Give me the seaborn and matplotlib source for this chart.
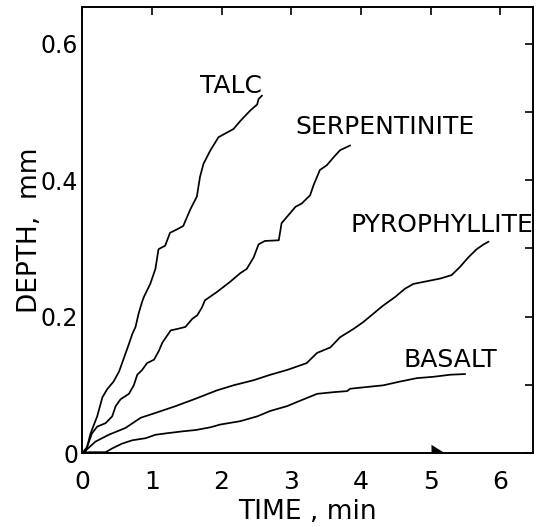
import matplotlib
matplotlib.use("Agg")
import matplotlib.pyplot as plt
import seaborn as sns
import pandas as pd

# ---- data (time in min, depth in mm) ----
talc_t = [0.0, 0.05, 0.12, 0.215, 0.29, 0.36, 0.45, 0.53, 0.60, 0.67, 0.72, 0.765, 0.81, 0.86, 0.885,
          0.976, 1.05, 1.095, 1.19, 1.26, 1.36, 1.45, 1.55, 1.645, 1.69, 1.74, 1.84, 1.955, 2.08, 2.17,
          2.27, 2.41, 2.51, 2.53, 2.58]
talc_d = [0.0, 0.0015, 0.029, 0.054, 0.082, 0.094, 0.105, 0.12, 0.14, 0.16, 0.175, 0.185, 0.205, 0.222, 0.229,
          0.248, 0.27, 0.299, 0.304, 0.323, 0.328, 0.333, 0.357, 0.376, 0.405, 0.424, 0.444, 0.463, 0.47, 0.475,
          0.487, 0.502, 0.511, 0.519, 0.524]

serp_t = [0.0, 0.07, 0.14, 0.215, 0.335, 0.43, 0.48, 0.55, 0.67, 0.74, 0.79, 0.86, 0.93, 1.03, 1.10, 1.15,
          1.27, 1.36, 1.48, 1.58, 1.65, 1.72, 1.76, 1.93, 2.12, 2.27, 2.36, 2.46, 2.53, 2.62, 2.82, 2.86,
          2.96, 3.06, 3.15, 3.27, 3.32, 3.41, 3.51, 3.61, 3.70, 3.845]
serp_d = [0.0, 0.009, 0.029, 0.039, 0.044, 0.054, 0.069, 0.079, 0.087, 0.0995, 0.115, 0.122, 0.132, 0.137, 0.15, 0.162,
          0.18, 0.182, 0.185, 0.197, 0.202, 0.214, 0.224, 0.236, 0.251, 0.264, 0.27, 0.287, 0.306, 0.311, 0.312, 0.337,
          0.349, 0.361, 0.366, 0.378, 0.393, 0.415, 0.422, 0.434, 0.444, 0.451]

pyro_t = [0.0, 0.05, 0.19, 0.38, 0.62, 0.84, 1.05, 1.34, 1.63, 1.93, 2.17, 2.46, 2.70, 2.94, 3.22, 3.37,
          3.56, 3.70, 3.89, 4.03, 4.16, 4.30, 4.49, 4.63, 4.75, 4.945, 5.14, 5.30, 5.42, 5.54, 5.66, 5.76, 5.83]
pyro_d = [0.0, 0.004, 0.017, 0.027, 0.037, 0.052, 0.059, 0.069, 0.080, 0.092, 0.0995, 0.107, 0.115, 0.122, 0.132, 0.147,
          0.155, 0.17, 0.182, 0.192, 0.203, 0.215, 0.229, 0.241, 0.248, 0.252, 0.256, 0.261, 0.273, 0.287, 0.299, 0.306, 0.31]

basalt_t = [0.0, 0.1, 0.335, 0.43, 0.57, 0.72, 0.91, 1.05, 1.195, 1.435, 1.63, 1.84, 1.98, 2.27, 2.51, 2.70,
            2.94, 3.08, 3.37, 3.61, 3.80, 3.845, 4.08, 4.32, 4.56, 4.80, 5.04, 5.28, 5.495]
basalt_d = [0.0, 0.0015, 0.0015, 0.007, 0.014, 0.019, 0.022, 0.027, 0.029, 0.032, 0.034, 0.038, 0.042, 0.047, 0.054, 0.062,
            0.069, 0.075, 0.087, 0.0895, 0.091, 0.0945, 0.097, 0.0995, 0.105, 0.11, 0.112, 0.115, 0.116]

rocks = ["TALC", "SERPENTINITE", "PYROPHYLLITE", "BASALT"]
label_x = [1.69, 3.06, 3.85, 4.61]
label_y = [0.538, 0.478, 0.334, 0.137]

x_ticks = [0, 1, 2, 3, 4, 5, 6]
y_ticks = [0, 0.2, 0.4, 0.6]
y_tick_labels = ["0", "0.2", "0.4", "0.6"]
y_minor = [0.1, 0.3, 0.5]

flag_x = [5.0]
flag_y = [0.0]

frames = []
for name, t, d in zip(rocks, [talc_t, serp_t, pyro_t, basalt_t], [talc_d, serp_d, pyro_d, basalt_d]):
    frames.append(pd.DataFrame({"time": t, "depth": d, "rock": name}))
df = pd.concat(frames, ignore_index=True)

sns.set_theme(style="white")
plt.rcParams['font.family'] = ['DejaVu Sans']

fig = plt.figure(figsize=(5.48, 5.27), dpi=100)
ax = fig.add_axes([0.150, 0.140, 0.823, 0.847])

sns.lineplot(data=df, x="time", y="depth", hue="rock", units="rock", estimator=None,
             sort=False, palette=["black"] * 4, linewidth=1.25, legend=False, ax=ax)

sns.scatterplot(x=flag_x, y=flag_y, marker=[(0, 0), (0, 1), (1.6, 0)], s=400, color="black",
                linewidth=0, ax=ax, legend=False, clip_on=False, zorder=5)

for lab, lx, ly in zip(rocks, label_x, label_y):
    ax.text(lx, ly, lab, fontsize=18, ha="left", va="center", color="black")

ax.set_xlim(0, 6.47)
ax.set_ylim(0, 0.654)
ax.set_xticks(x_ticks)
ax.set_xticklabels([str(v) for v in x_ticks], fontsize=18)
ax.set_yticks(y_ticks)
ax.set_yticklabels(y_tick_labels, fontsize=17)
ax.set_yticks(y_minor, minor=True)
ax.tick_params(axis="both", which="both", direction="in", length=6, width=1.2,
               top=True, right=True, colors="black")
ax.tick_params(axis="x", pad=12)
ax.tick_params(axis="y", pad=3)
ax.set_xlabel("TIME , min", fontsize=19, color="black", labelpad=4)
ax.set_ylabel("DEPTH,  mm", fontsize=19, color="black")
ax.yaxis.set_label_coords(-0.088, 0.5)

for s in ax.spines.values():
    s.set_color("black")
    s.set_linewidth(1.4)

fig.savefig("out.png", dpi=100)
